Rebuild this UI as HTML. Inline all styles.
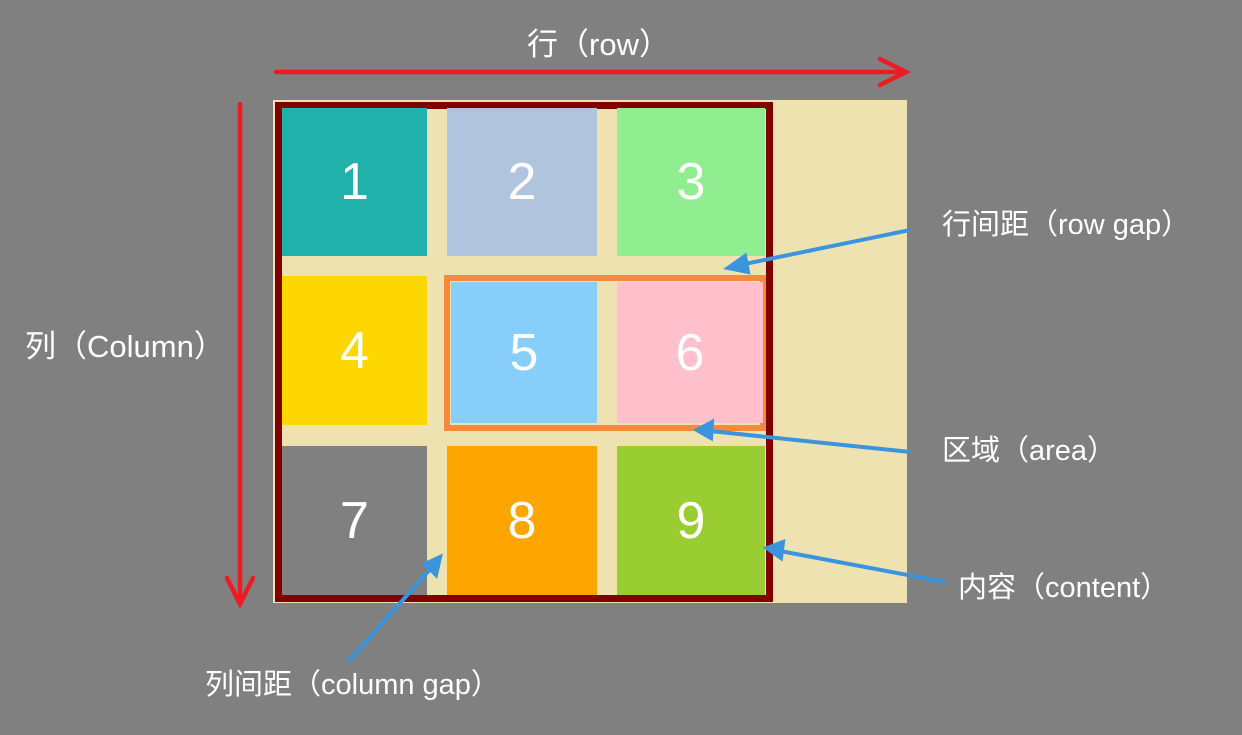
<!DOCTYPE html>
<html><head><meta charset="utf-8"><style>
body{margin:0;width:1242px;height:735px;background:#808080;position:relative;overflow:hidden;font-family:"Liberation Sans","Noto Sans CJK SC",sans-serif}
.a{position:absolute}
.c{position:absolute;color:#fff;font-family:"Liberation Sans",sans-serif;font-size:52px;display:flex;align-items:center;justify-content:center}
.t{position:absolute;color:#fff;font-size:29px;white-space:nowrap;line-height:1}
</style></head><body>
<div class="a" style="left:273px;top:100px;width:634px;height:503px;background:#EEE2B0"></div>
<div class="a" style="left:275px;top:102px;width:484px;height:486px;border:7px solid #800000;background:#EEE2B0"></div>
<div class="c" style="left:282px;top:108px;width:145px;height:148px;background:#20B2AA">1</div>
<div class="c" style="left:447px;top:108px;width:150px;height:148px;background:#B0C4DE">2</div>
<div class="c" style="left:617px;top:108px;width:148px;height:148px;background:#90EE90">3</div>
<div class="c" style="left:282px;top:276px;width:145px;height:149px;background:#FFD700">4</div>
<div class="a" style="left:444px;top:275px;width:310px;height:144px;border:6px solid #F58A3C"></div>
<div class="c" style="left:451px;top:282px;width:146px;height:141px;background:#87CEFA">5</div>
<div class="c" style="left:617px;top:282px;width:146px;height:141px;background:#FFC0CB">6</div>
<div class="c" style="left:282px;top:446px;width:145px;height:149px;background:#808080">7</div>
<div class="c" style="left:447px;top:446px;width:150px;height:149px;background:#FFA500">8</div>
<div class="c" style="left:617px;top:446px;width:148px;height:149px;background:#9ACD32">9</div>
<svg class="a" style="left:0;top:0" width="1242" height="735">
<g stroke="#ED1C24" stroke-width="4.5" fill="none" stroke-linecap="round">
<line x1="276" y1="72" x2="906" y2="72"/>
<polyline points="880,59 906,72 880,85"/>
<line x1="240" y1="104" x2="240" y2="604"/>
<polyline points="227,578 240,604 253,578"/>
</g>
<g stroke="#3A95DE" stroke-width="4" fill="#3A95DE">
<line x1="910" y1="230" x2="740" y2="265"/><polygon points="728,268 745,256 748,272"/>
<line x1="910" y1="452" x2="710" y2="431"/><polygon points="697,430 712,422 711,438"/>
<line x1="945" y1="582" x2="780" y2="551"/><polygon points="767,548 783,542 781,558"/>
<line x1="348" y1="662" x2="432" y2="567"/><polygon points="440,557 436,575 425,564"/>
</g>
</svg>
<div class="t" style="left:527px;top:29px;font-size:31px">行（row）</div>
<div class="t" style="left:25px;top:331px;font-size:31px">列（Column）</div>
<div class="t" style="left:942px;top:211px">行间距（row gap）</div>
<div class="t" style="left:942px;top:437px">区域（area）</div>
<div class="t" style="left:958px;top:574px">内容（content）</div>
<div class="t" style="left:205px;top:671px">列间距（column gap）</div>
</body></html>
